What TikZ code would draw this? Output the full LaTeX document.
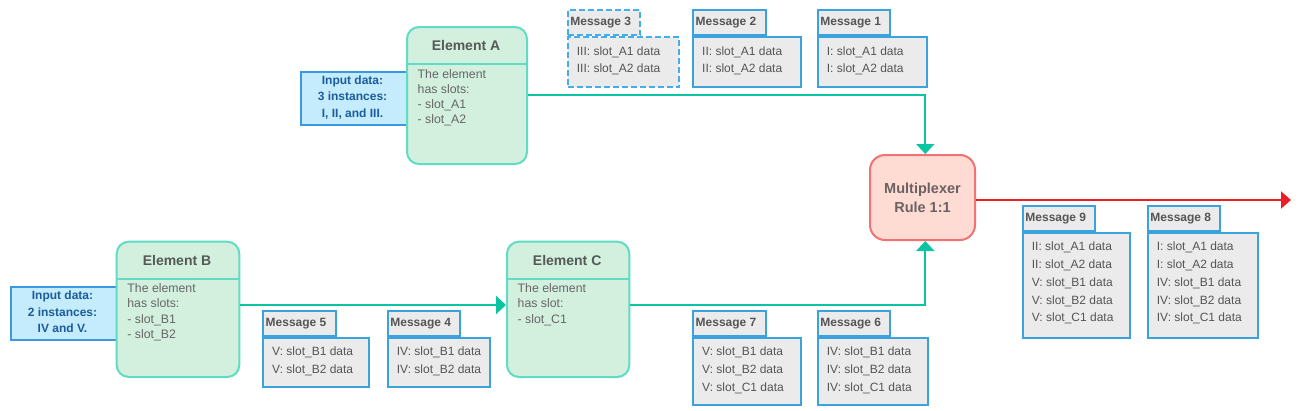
\documentclass[tikz,border=0pt]{standalone}
\usepackage{fontspec}
\setmainfont{Liberation Sans}
\usetikzlibrary{arrows.meta}
\definecolor{elemfill}{HTML}{D3F0DF}
\definecolor{elemdraw}{HTML}{5FDCC3}
\definecolor{elemtitlec}{HTML}{555A57}
\definecolor{elemtxtc}{HTML}{666666}
\definecolor{conncol}{HTML}{0BC4A2}
\definecolor{inputfill}{HTML}{C4ECFD}
\definecolor{inputdraw}{HTML}{3C98DF}
\definecolor{inputtxtc}{HTML}{1B5C9C}
\definecolor{msgfill}{HTML}{EBEBEB}
\definecolor{msgdraw}{HTML}{3BA2DD}
\definecolor{msgdash}{HTML}{45ADEA}
\definecolor{msgtxtc}{HTML}{555555}
\definecolor{muxfill}{HTML}{FEDCD4}
\definecolor{muxdraw}{HTML}{F07272}
\definecolor{muxtxtc}{HTML}{6B6262}
\definecolor{redcol}{HTML}{EE1C25}

\newcommand\elembox[7]{%
  \node[elem, minimum width={(#4-#2)*1pt}, minimum height={(#5-#3)*1pt}, anchor=north west] (#1) at (#2,#3) {};
  \coordinate (#1div) at (#2,#3+38);
  \draw[elemdraw, line width=2pt] (#1.west |- #1div) -- (#1.east |- #1div);
  \node[elemtitle, anchor=base] (#1title) at ({(#2+#4)/2}, #3+24.3) {#6};
  \foreach \t [count=\i] in {#7} \node[elemtxt, anchor=base west] (#1l\i) at (#2+11.5, #3+52+\i*15.2-15.2) {\t};
}
\newcommand\msgbox[8]{%
  \node[msgbody, #8, minimum width={(#4-#2)*1pt}, minimum height={(#5-#3-25)*1pt}, anchor=north west] (#1) at (#2,#3+25) {};
  \node[msgbody, #8, minimum width=72.5pt, minimum height=25pt, anchor=south west] (#1tab) at (#1.north west) {};
  \node[msgtitle, anchor=base west] (#1title) at (#2+3.5, #3+14.5) {#6};
  \foreach \t [count=\i] in {#7} \node[msgtxt, anchor=base west] (#1l\i) at (#2+10, #3+44+\i*17.8-17.8) {\t};
}

\begin{document}
\begin{tikzpicture}[x=1pt,y=-1pt,
  elem/.style={rectangle, draw=elemdraw, fill=elemfill, line width=2pt, rounded corners=12pt, inner sep=0pt},
  elemtitle/.style={inner sep=0pt, text=elemtitlec, font=\fontsize{14}{16}\selectfont\bfseries},
  elemtxt/.style={inner sep=0pt, text=elemtxtc, font=\fontsize{12.3}{15}\selectfont},
  inputbox/.style={rectangle, draw=inputdraw, fill=inputfill, line width=2pt, inner sep=0pt},
  inputtxt/.style={inner sep=0pt, text=inputtxtc, font=\fontsize{12}{14}\selectfont\bfseries},
  msgbody/.style={rectangle, draw=msgdraw, fill=msgfill, line width=2pt, inner sep=0pt},
  msgdashed/.style={draw=msgdash, dash pattern=on 6pt off 3pt},
  msgtitle/.style={inner sep=0pt, text=msgtxtc, font=\fontsize{12}{14}\selectfont\bfseries},
  msgtxt/.style={inner sep=0pt, text=msgtxtc, font=\fontsize{12}{14}\selectfont},
  mux/.style={rectangle, draw=muxdraw, fill=muxfill, line width=2pt, rounded corners=15pt, inner sep=0pt},
  muxtxt/.style={inner sep=0pt, text=muxtxtc, font=\fontsize{14.5}{17}\selectfont\bfseries},
  conn/.style={draw=conncol, line width=2pt, -{Triangle[length=10pt,width=18pt]}},
  redconn/.style={draw=redcol, line width=2pt, -{Triangle[length=10pt,width=17pt]}}
]
\useasboundingbox[fill=white] (0,0) rectangle (1299,410);

% input boxes
\node[inputbox, minimum width=106pt, minimum height=53pt, anchor=north west] (inA) at (300,71) {};
\foreach \t [count=\i] in {Input data:,3 instances:,{I, II, and III.}}
  \node[inputtxt, anchor=base] (inAl\i) at (352.5, 84.3+\i*16.5-16.5) {\t};
\node[inputbox, minimum width=106pt, minimum height=52.7pt, anchor=north west] (inB) at (10,286) {};
\foreach \t [count=\i] in {Input data:,2 instances:,IV and V.}
  \node[inputtxt, anchor=base] (inBl\i) at (62.5, 299.3+\i*16.8-16.8) {\t};

% elements
\elembox{A}{406}{26}{526}{163}{Element A}{The element,has slots:,- slot\_A1,- slot\_A2}
\elembox{B}{115.7}{240.7}{238.3}{376}{Element B}{The element,has slots:,- slot\_B1,- slot\_B2}
\elembox{C}{506}{240.7}{628.3}{376}{Element C}{The element,has slot:,- slot\_C1}

% multiplexer
\node[mux, minimum width=105pt, minimum height=85pt] (mux) at (922.5,197.5) {};
\node[muxtxt, anchor=base] (muxl1) at (922.5,193.2) {Multiplexer};
\node[muxtxt, anchor=base] (muxl2) at (922.5,212.2) {Rule 1:1};

% messages
\msgbox{m3}{566.7}{11}{678.3}{86}{Message 3}{III: slot\_A1 data,III: slot\_A2 data}{msgdashed}
\msgbox{m2}{692}{11}{800}{86}{Message 2}{II: slot\_A1 data,II: slot\_A2 data}{}
\msgbox{m1}{816.7}{11}{925.7}{86}{Message 1}{I: slot\_A1 data,I: slot\_A2 data}{}
\msgbox{m5}{262}{311.7}{368}{385.7}{Message 5}{V: slot\_B1 data,V: slot\_B2 data}{}
\msgbox{m4}{386.7}{311.7}{488.7}{385.7}{Message 4}{IV: slot\_B1 data,IV: slot\_B2 data}{}
\msgbox{m7}{692}{311.7}{799.5}{404}{Message 7}{V: slot\_B1 data,V: slot\_B2 data,V: slot\_C1 data}{}
\msgbox{m6}{816.7}{311.7}{926.5}{404}{Message 6}{IV: slot\_B1 data,IV: slot\_B2 data,IV: slot\_C1 data}{}
\msgbox{m9}{1021.7}{206.7}{1129}{336.7}{Message 9}{II: slot\_A1 data,II: slot\_A2 data,V: slot\_B1 data,V: slot\_B2 data,V: slot\_C1 data}{}
\msgbox{m8}{1146.7}{206.7}{1257}{336.7}{Message 8}{I: slot\_A1 data,I: slot\_A2 data,IV: slot\_B1 data,IV: slot\_B2 data,IV: slot\_C1 data}{}

% connectors
\coordinate (rowA) at (0,95);
\coordinate (rowB) at (0,305);
\coordinate (rowM) at (0,200);
\coordinate (colM) at (925.3,0);
\coordinate (outEnd) at (1291,200);
\draw[conn] (A.east |- rowA) -| (colM |- mux.north);
\draw[conn] (B.east |- rowB) -- (C.west |- rowB);
\draw[conn] (C.east |- rowB) -| (colM |- mux.south);
\draw[redconn] (mux.east |- rowM) -- (outEnd);
\end{tikzpicture}
\end{document}
